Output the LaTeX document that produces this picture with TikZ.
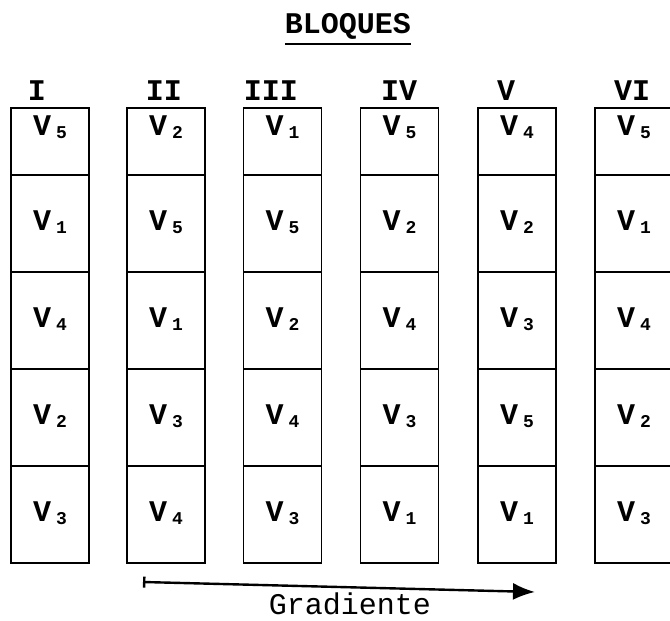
\documentclass[tikz,border=0pt]{standalone}
\usepackage{fontspec}
\setmainfont{Liberation Mono}
\usetikzlibrary{arrows.meta}
% variety label: V with a lowered index
\newcommand\varlab[1]{V\,\raisebox{-3pt}{\fontsize{18}{18}\selectfont #1}}
\begin{document}
\begin{tikzpicture}[x=1pt,y=-1pt,
  cell/.style={draw, line width=1.3pt, minimum width=78pt, inner sep=0pt, outer sep=0pt},
  var/.style={font=\fontsize{30}{30}\selectfont\bfseries, inner sep=0pt, anchor=base},
  head/.style={font=\fontsize{30}{30}\selectfont\bfseries, inner sep=0pt, anchor=base},
  title/.style={font=\fontsize{30}{30}\selectfont, inner sep=0pt, anchor=base},
  gradline/.style={line width=2.4pt, {Bar[width=11pt]}-{Latex[length=22pt,width=17pt]}},
]
\useasboundingbox (0,0) rectangle (670,621);
\clip (0,0) rectangle (670,621);

% title
\node[title, font=\fontsize{30}{30}\selectfont\bfseries] (bloques) at (348,33) {BLOQUES};
\draw[line width=1.6pt] ([yshift=-11pt]bloques.base west) -- ([yshift=-11pt]bloques.base east);

% blocks: name / column centre / header centre / varieties from top to bottom
\foreach \col/\cx/\hx/\vars in {I/50/37/{5,1,4,2,3}, II/166/164/{2,5,1,3,4},
    III/282.5/271/{1,5,2,4,3}, IV/399.5/399/{5,2,4,3,1},
    V/517/506/{4,2,3,5,1}, VI/634/632/{5,1,4,2,3}} {
  \node[head] (h-\col) at (\hx,100) {\col};
  \foreach \v [count=\r] in \vars {
    \pgfmathsetmacro\yc{\r==1 ? 141.5 : 175+(\r-2)*97+48.5}
    \pgfmathsetmacro\hh{\r==1 ? 67 : 97}
    \pgfmathsetmacro\yb{\r==1 ? 135 : \yc+7}
    \node[cell, minimum height=\hh pt] (\col-\r) at (\cx,\yc) {};
    \node[var] (l-\col-\r) at (\cx,\yb) {\varlab{\v}};
  }
}

% gradient arrow
\coordinate (gs) at (143,582);
\coordinate (ge) at (535,592);
\draw[gradline] (gs) -- (ge);
\node[title] (grad) at (350,614) {Gradiente};
\end{tikzpicture}
\end{document}
